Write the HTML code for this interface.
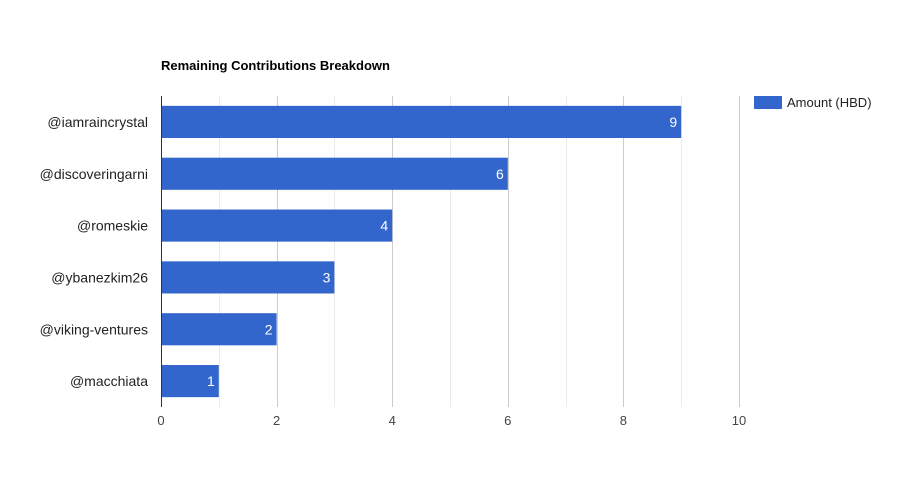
<!DOCTYPE html>
<html><head><meta charset="utf-8"><style>
body{margin:0;background:#fff;}
svg{display:block;font-family:"Liberation Sans",Arial,sans-serif;}
</style></head><body>
<svg id="chart" width="900" height="500" viewBox="0 0 900 500">
<rect width="900" height="500" fill="#fff"/>
<text x="161" y="70" font-size="13" font-weight="bold" fill="#000">Remaining Contributions Breakdown</text>
<g id="grid"></g><g id="bars"></g><g id="labels"></g>
<line x1="161.5" y1="96" x2="161.5" y2="407" stroke="#333" stroke-width="1"/>
<g>
<rect x="754" y="96" width="28" height="13" fill="#3366cc"/>
<text x="787" y="107" font-size="13" fill="#222">Amount (HBD)</text>
</g>
</svg>
<script>
const categories=["@iamraincrystal","@discoveringarni","@romeskie","@ybanezkim26","@viking-ventures","@macchiata"];
const values=[9,6,4,3,2,1];
const ticks=[0,2,4,6,8,10];
const xMin=0,xMax=10;
const NS="http://www.w3.org/2000/svg";
const L=161,R=739,T=96,B=407;
function x(v){return L+(v-xMin)/(xMax-xMin)*(R-L);}
const band=(B-T)/categories.length;
function y(i){return T+i*band;}
function mk(t,a,p){const e=document.createElementNS(NS,t);for(const k in a)e.setAttribute(k,a[k]);p.appendChild(e);return e;}
const grid=document.getElementById('grid'),bars=document.getElementById('bars'),labels=document.getElementById('labels');
for(let v=xMin+1;v<=xMax;v++){
 const ln=mk('line',{x1:Math.round(x(v))+0.5,x2:Math.round(x(v))+0.5,y1:T,y2:B,stroke:v%2===0?'#cccccc':'#ebebeb'},grid);
 
 
}
ticks.forEach(t=>{
 const tx=mk('text',{x:x(t),y:425,'font-size':13,fill:'#444','text-anchor':'middle'},labels);
 tx.textContent=t;
 
 
});
categories.forEach((c,i)=>{
 const bh=band*0.62, by=y(i)+(band-bh)/2;
 const r=mk('rect',{x:x(0),y:by,width:x(values[i])-x(0),height:bh,fill:'#3366cc'},bars);
 
 
 const vl=mk('text',{x:x(values[i])-4,y:by+bh/2+5,'font-size':14,fill:'#fff','text-anchor':'end'},bars);
 vl.textContent=values[i];
 
 
 const cl=mk('text',{x:148,y:by+bh/2+5,'font-size':14,fill:'#222','text-anchor':'end'},labels);
 cl.textContent=c;
 
 
});
</script>
</body></html>
